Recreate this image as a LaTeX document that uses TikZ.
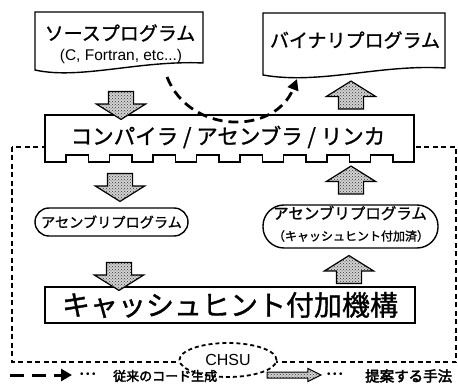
\documentclass[tikz,border=0pt]{standalone}
\usepackage{fontspec}
\setmainfont{Liberation Sans}
\newfontfamily\cjk{Noto Sans CJK JP}[FakeBold=1.2]
\newfontfamily\cjkbf{Noto Sans CJK JP}[FakeBold=2.8]
\usetikzlibrary{shapes.geometric,shapes.arrows,arrows.meta,patterns,calc}
\newcommand\fsz[1]{\fontsize{#1}{#1}\selectfont}
\newcommand\legdots{\fsz{10}\textbullet\kern2.5pt\textbullet\kern2.5pt\textbullet}
\begin{document}
\begin{tikzpicture}[x=1pt,y=-1pt,
  docline/.style={draw=black,line width=1.4pt,fill=white},
  boxline/.style={draw=black,line width=1.8pt,fill=white},
  stadium/.style={draw=black,line width=1.4pt,fill=white,rectangle,inner sep=0pt},
  fatarrow/.style={single arrow,draw=black,line width=1.2pt,inner xsep=0pt,inner ysep=12pt,
    single arrow head extend=12pt,single arrow tip angle=116,minimum height=28pt,
    preaction={fill=gray!35},pattern=crosshatch dots,pattern color=black!80},
  oldflow/.style={line width=2.8pt,dash pattern=on 10pt off 6pt,-{Triangle[length=11pt,width=11pt]}},
  chsubox/.style={line width=1.2pt,dash pattern=on 5pt off 3.5pt},
  txt/.style={inner sep=0pt}
]
\useasboundingbox (0,0) rectangle (458,385);

% CHSU boundary
\draw[chsubox] (12,147) rectangle (456,362);

% source program document
\draw[docline] (35,12) -- (203,12) -- (203,63) .. controls (140,60) and (80,80) .. (35,70) -- cycle;
\node[txt] (src) at (120,33) {\cjk\fsz{19}ソースプログラム};
\node[txt] (srcsub) at (121,56) {\fsz{15.5}(C, Fortran, etc...)};

% binary program document
\draw[docline] (263,13) -- (445,13) -- (445,68) .. controls (380,64) and (320,85) .. (263,75) -- cycle;
\node[txt] (bin) at (355,40) {\cjk\fsz{19}バイナリプログラム};

% compiler box with teeth
\draw[boxline] (45,115) -- (45,162)
  \foreach \k in {1,...,8} { -- ++(21,0) -- ++(0,-7) -- ++(22.5,0) -- ++(0,7) }
  -- ++(21,0) -- (414,115) -- cycle;
\node[txt] (cmp) at (228,137) {\cjk\fsz{21.5}コンパイラ / アセンブラ / リンカ};

% assembly programs
\node[stadium,rounded corners=14pt,minimum width=153pt,minimum height=28pt] (asmL) at (111.5,222)
  {\cjk\fsz{14.2}アセンブリプログラム};
\node[stadium,rounded corners=21pt,minimum width=175pt,minimum height=43pt] (asmR) at (350.5,226.5) {};
\node[txt] (asmRt) at (350,213) {\cjk\fsz{15.5}アセンブリプログラム};
\node[txt] (asmRs) at (351,236) {\cjk\fsz{12}（キャッシュヒント付加済）};

% cache hint box
\node[boxline,rectangle,minimum width=370pt,minimum height=36pt,inner sep=0pt] (chu) at (230,305)
  {\cjk\fsz{28}キャッシュヒント付加機構};

% CHSU label
\node[ellipse,draw=black,fill=white,line width=1.8pt,dash pattern=on 4pt off 3pt,
  minimum width=97pt,minimum height=34pt,inner sep=0pt] (chsu) at (228,360) {\fsz{16}CHSU};

% fat arrows (proposed flow)
\node[fatarrow,rotate=-90] (a1) at (121,101.5) {};
\node[fatarrow,rotate=90] (a2) at (351,99) {};
\node[fatarrow,rotate=-90] (a3) at (120,183.5) {};
\node[fatarrow,rotate=90] (a4) at (351,184) {};
\node[fatarrow,rotate=-90] (a5) at (119,272.5) {};
\node[fatarrow,rotate=90] (a6) at (349,273.5) {};

% conventional flow (dashed curve)
\coordinate (cs) at (167,77);
\coordinate (ce) at (297,79);
\draw[oldflow] (cs) .. controls (190,135) and (275,135) .. (ce);

% legend
\coordinate (la) at (10,375);
\coordinate (lb) at (72,375);
\draw[line width=3pt,dash pattern=on 14pt off 8pt,-{Triangle[length=11pt,width=12pt]}] (la) -- (lb);
\node[txt,anchor=west] (ld1) at (80,375) {\legdots};
\node[txt,anchor=west] (lt1) at (113,376) {\cjkbf\fsz{13}従来のコード生成};
\node[single arrow,draw=black,line width=1pt,inner xsep=0pt,inner ysep=2.5pt,
  single arrow head extend=3.5pt,single arrow tip angle=53,minimum height=54pt,
  preaction={fill=gray!35},pattern=crosshatch dots,pattern color=black!80] (lf) at (291,375) {};
\node[txt,anchor=west] (ld2) at (327,375) {\legdots};
\node[txt,anchor=west] (lt2) at (365,376) {\cjkbf\fsz{14.5}提案する手法};
\end{tikzpicture}
\end{document}
